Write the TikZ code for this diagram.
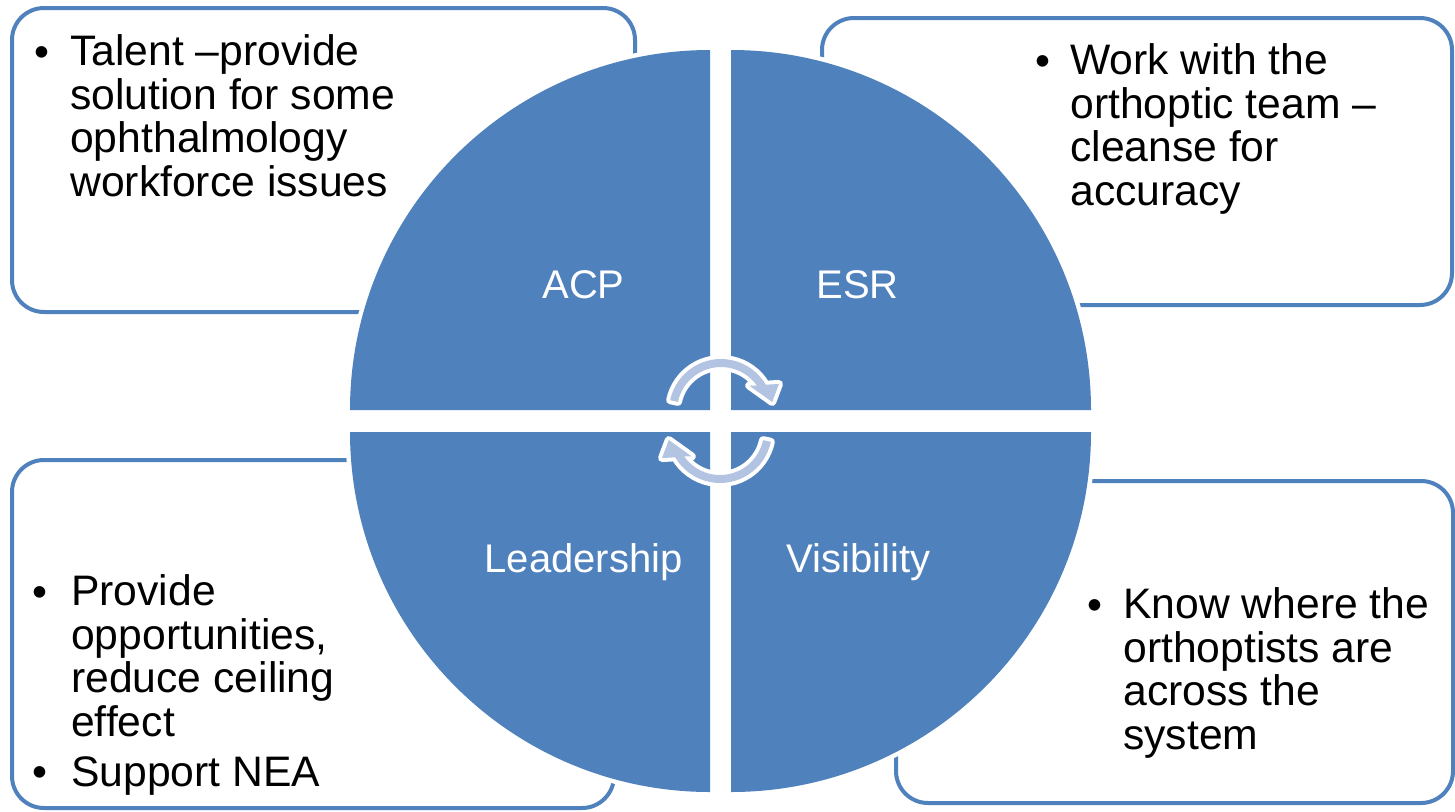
\documentclass[tikz,border=0pt]{standalone}
\usepackage{fontspec}
\setmainfont{Liberation Sans}
\begin{document}
\begin{tikzpicture}[x=0.75pt,y=0.75pt]
\definecolor{accent}{RGB}{79,129,189}
\definecolor{arrowfill}{RGB}{178,196,226}
\tikzset{
  panel/.style={draw=accent, line width=3pt, fill=white, rounded corners=24pt, inner sep=0pt},
  quarter/.style={fill=accent, preaction={draw=white, line width=6.75pt}},
  cyclearrow/.style={fill=arrowfill, preaction={draw=white, line width=6pt, line join=round}},
  % multi-line texts are placed by the baseline of their last line
  bodytext/.style={anchor=base west, align=left, inner sep=0pt,
    font=\fontsize{32pt}{32.6pt}\selectfont},
  bulletmark/.style={anchor=base, inner sep=0pt, font=\fontsize{32pt}{32.6pt}\selectfont},
  quarterlabel/.style={anchor=base, inner sep=0pt, text=white,
    font=\fontsize{30pt}{36pt}\selectfont},
}
\fill[white] (0,0) rectangle (1455,-811);
\useasboundingbox (0,0) rectangle (1455,-811);

% text panels behind the circle
\node[panel, minimum width=467.25pt, minimum height=228pt]   (pTL) at (323.5,-160) {};
\node[panel, minimum width=472.5pt,  minimum height=215.25pt] (pTR) at (1137,-161.5) {};
\node[panel, minimum width=451.5pt,  minimum height=261pt]   (pBL) at (313,-634) {};
\node[panel, minimum width=417.75pt, minimum height=241.5pt] (pBR) at (1174.5,-642) {};

% four quarters of the circle
\path[quarter] (710,-410) -- (350,-410) arc[start angle=180, end angle=90, radius=270pt] -- cycle;
\path[quarter] (731,-410) -- (731,-50) arc[start angle=90, end angle=0, radius=270pt] -- cycle;
\path[quarter] (710,-432) -- (710,-792) arc[start angle=270, end angle=180, radius=270pt] -- cycle;
\path[quarter] (731,-432) -- (1091,-432) arc[start angle=0, end angle=-90, radius=270pt] -- cycle;

% quarter labels
\node[quarterlabel] (acp) at (583.5,-298) {ACP};
\node[quarterlabel] (esr) at (857.5,-298) {ESR};
\node[quarterlabel] (lead) at (583.5,-572) {Leadership};
\node[quarterlabel] (vis) at (858.5,-572) {Visibility};

% circular arrows in the middle
\begin{scope}[shift={(721,-411)}]
  \path[cyclearrow] (168:44) -- (168:52) arc[start angle=168, end angle=30.4, radius=39pt]
    -- (25:64) -- (10:52) -- (42:38) -- (35.4:44)
    arc[start angle=35.4, end angle=168, radius=33pt] -- cycle;
\end{scope}
\begin{scope}[shift={(720,-431)}, rotate=180]
  \path[cyclearrow] (168:44) -- (168:52) arc[start angle=168, end angle=30.4, radius=39pt]
    -- (25:64) -- (10:52) -- (42:38) -- (35.4:44)
    arc[start angle=35.4, end angle=168, radius=33pt] -- cycle;
\end{scope}

% panel texts
\node[bulletmark] (bTL) at (42,-66) {•};
\node[bodytext] (tTL) at (70,-196) {Talent –provide\\solution for some\\ophthalmology\\workforce issues};

\node[bulletmark] (bTR) at (1043,-75) {•};
\node[bodytext] (tTR) at (1070,-205) {Work with the\\orthoptic team –\\cleanse for\\accuracy};

\node[bulletmark] (bBL1) at (40,-606) {•};
\node[bodytext] (tBL1) at (71,-736) {Provide\\opportunities,\\reduce ceiling\\effect};
\node[bulletmark] (bBL2) at (40,-786) {•};
\node[bodytext] (tBL2) at (71,-786) {Support NEA};

\node[bulletmark] (bBR) at (1095,-619) {•};
\node[bodytext] (tBR) at (1123,-749) {Know where the\\orthoptists are\\across the\\system};
\end{tikzpicture}
\end{document}
